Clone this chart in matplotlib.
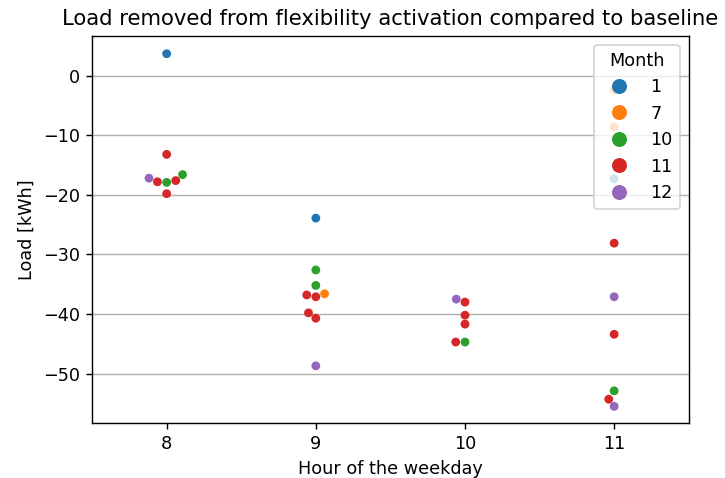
import matplotlib
matplotlib.use("Agg")
import matplotlib.pyplot as plt
import seaborn as sns
import pandas as pd

# Load change per activation event, grouped by weekday hour and month
hours = [8, 8, 8, 8, 8, 8, 8, 8,
         9, 9, 9, 9, 9, 9, 9, 9, 9,
         10, 10, 10, 10, 10, 10,
         11, 11, 11, 11, 11, 11, 11, 11, 11]
months = [1, 11, 12, 11, 10, 11, 10, 11,
          1, 10, 10, 11, 11, 7, 11, 11, 12,
          12, 11, 11, 11, 11, 10,
          7, 7, 1, 11, 12, 11, 10, 11, 12]
loads = [3.7, -13.2, -17.2, -17.8, -17.9, -17.6, -16.6, -19.8,
         -23.9, -32.6, -35.2, -36.8, -37.1, -36.6, -39.8, -40.7, -48.7,
         -37.5, -38.0, -40.2, -41.7, -44.7, -44.7,
         -2.4, -8.6, -17.3, -28.1, -37.1, -43.4, -52.9, -54.3, -55.5]

month_levels = [1, 7, 10, 11, 12]
month_colors = ["#1f77b4", "#ff7f0e", "#2ca02c", "#d62728", "#9467bd"]

df = pd.DataFrame({"Hour": hours, "Month": months, "Load": loads})

DPI = 127
fig, ax = plt.subplots(figsize=(725 / DPI, 478 / DPI), dpi=DPI)
fig.subplots_adjust(left=0.127, right=0.95, top=0.925, bottom=0.115)

sns.swarmplot(data=df, x="Hour", y="Load", hue="Month",
              hue_order=month_levels,
              palette=dict(zip(month_levels, month_colors)),
              size=5, ax=ax, zorder=3)

ax.set_xlim(-0.5, 3.5)
ax.set_ylim(-58.3, 6.7)
ax.set_yticks([-50, -40, -30, -20, -10, 0])
ax.yaxis.grid(True, color="#b0b0b0")
ax.set_axisbelow(True)

ax.set_title("Load removed from flexibility activation compared to baseline")
ax.set_xlabel("Hour of the weekday")
ax.set_ylabel("Load [kWh]")

handles, labels = ax.get_legend_handles_labels()
ax.legend(handles, labels, title="Month", loc="upper right",
          markerscale=1.7, labelspacing=0.48)

fig.savefig("out.png", dpi=DPI)
